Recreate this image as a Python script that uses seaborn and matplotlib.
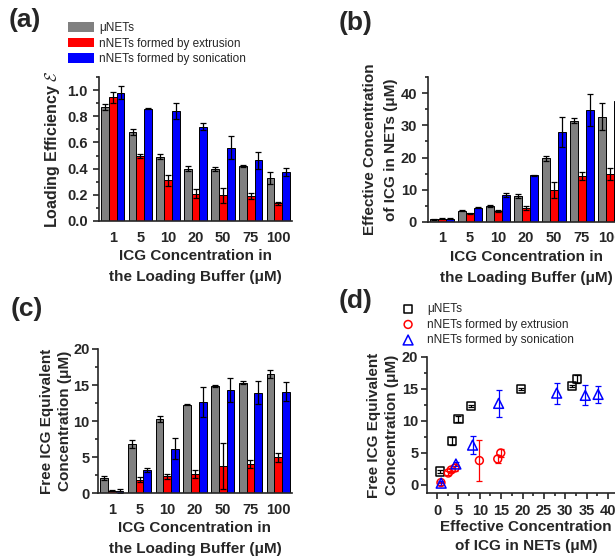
import numpy as np
import pandas as pd
import matplotlib
matplotlib.use('Agg')
import matplotlib.pyplot as plt
import seaborn as sns
from matplotlib.patches import Patch
from matplotlib.ticker import MultipleLocator, FormatStrFormatter

sns.set_style('ticks')
plt.rcParams['font.family'] = ['Liberation Sans', 'DejaVu Sans']
plt.rcParams['font.weight'] = 'bold'
plt.rcParams['axes.labelweight'] = 'bold'
plt.rcParams['mathtext.fontset'] = 'cm'
plt.rcParams['axes.linewidth'] = 1.2

# categories
conc = ['1', '5', '10', '20', '50', '75', '100']
groups = ['μNETs', 'nNETs formed by extrusion', 'nNETs formed by sonication']
colors = ['#808080', '#ff0000', '#0000ff']

# (a) loading efficiency
eff_mu = [0.87, 0.68, 0.49, 0.40, 0.40, 0.42, 0.33]
eff_mu_err = [0.02, 0.02, 0.02, 0.02, 0.015, 0.01, 0.045]
eff_ext = [0.945, 0.50, 0.31, 0.21, 0.195, 0.19, 0.136]
eff_ext_err = [0.04, 0.015, 0.04, 0.035, 0.055, 0.025, 0.01]
eff_son = [0.98, 0.857, 0.84, 0.72, 0.56, 0.463, 0.376]
eff_son_err = [0.05, 0.005, 0.06, 0.025, 0.09, 0.067, 0.03]

# (b) effective concentration of ICG in NETs (uM)
nets_mu = [0.7, 3.4, 5.0, 8.0, 19.7, 31.5, 32.7]
nets_mu_err = [0.1, 0.2, 0.3, 0.5, 0.8, 0.8, 4.2]
nets_ext = [0.9, 2.6, 3.3, 4.2, 9.9, 14.2, 14.9]
nets_ext_err = [0.1, 0.2, 0.4, 0.6, 2.6, 1.2, 1.8]
nets_son = [0.95, 4.4, 8.3, 14.4, 28.0, 34.7, 37.7]
nets_son_err = [0.1, 0.2, 0.6, 0.3, 4.6, 5.0, 3.0]

# (c) free ICG equivalent concentration (uM)
free_mu = [2.1, 6.84, 10.3, 12.3, 14.9, 15.35, 16.5]
free_mu_err = [0.3, 0.6, 0.45, 0.1, 0.15, 0.15, 0.55]
free_ext = [0.37, 1.86, 2.33, 2.65, 3.8, 4.05, 4.98]
free_ext_err = [0.1, 0.35, 0.3, 0.55, 3.2, 0.6, 0.6]
free_son = [0.28, 3.26, 6.2, 12.7, 14.3, 13.95, 14.1]
free_son_err = [0.3, 0.3, 1.4, 2.1, 1.65, 1.55, 1.35]

W, H = 615, 558
fig = plt.figure(figsize=(6.15, 5.58), dpi=100)


def px_axes(left, top, right, bottom):
    return fig.add_axes([left / W, 1 - bottom / H, (right - left) / W, (bottom - top) / H])


def bar_panel(ax, vals, errs, top, major, ypad=3.5):
    df = pd.DataFrame({'conc': np.tile(conc, 3),
                       'group': np.repeat(groups, len(conc)),
                       'value': np.concatenate(vals)})
    sns.barplot(data=df, x='conc', y='value', hue='group', order=conc,
                hue_order=groups, palette=colors, saturation=1, width=0.84,
                edgecolor='black', linewidth=0.7, errorbar=None, legend=False, ax=ax)
    for cont, err in zip(ax.containers, errs):
        xs = [p.get_x() + p.get_width() / 2 for p in cont]
        ys = [p.get_height() for p in cont]
        ax.errorbar(xs, ys, yerr=err, fmt='none', ecolor='black',
                    elinewidth=0.9, capsize=2.2, capthick=0.9)
    ax.set_xlim(-0.5, 6.5)
    ax.set_ylim(0, top)
    ax.yaxis.set_major_locator(MultipleLocator(major))
    ax.yaxis.set_minor_locator(MultipleLocator(major / 2))
    ax.tick_params(axis='x', length=0, pad=7, labelsize=10.5)
    ax.tick_params(axis='y', which='major', length=4.5, width=1.2, labelsize=10.5, pad=ypad)
    ax.tick_params(axis='y', which='minor', length=2.5, width=1.2)
    ax.set_xlabel('ICG Concentration in\nthe Loading Buffer (μM)', fontsize=11,
                  linespacing=1.65, labelpad=3)
    sns.despine(ax=ax)


# (a)
ax_a = px_axes(99, 77, 292, 221)
bar_panel(ax_a, [eff_mu, eff_ext, eff_son], [eff_mu_err, eff_ext_err, eff_son_err], 1.1, 0.2)
ax_a.yaxis.set_major_formatter(FormatStrFormatter('%.1f'))
ax_a.set_ylabel(r'Loading Efficiency $\mathcal{E}$', fontsize=11.5)
handles = [Patch(facecolor=c, edgecolor='none') for c in colors]
ax_a.legend(handles, groups, loc='upper left', bbox_to_anchor=(68 / W, 1 - 22 / H),
            bbox_transform=fig.transFigure, frameon=False, borderaxespad=0, borderpad=0,
            prop={'weight': 'normal', 'size': 8.5}, handlelength=2.2, handleheight=0.9,
            handletextpad=0.45, labelspacing=0.3)

# (b)
ax_b = px_axes(428, 77.3, 624, 221.7)
bar_panel(ax_b, [nets_mu, nets_ext, nets_son], [nets_mu_err, nets_ext_err, nets_son_err], 45, 10)
ax_b.set_ylabel('Effective Concentration\nof ICG in NETs (μM)', fontsize=11,
                labelpad=2, linespacing=1.6)

# (c)
ax_c = px_axes(98, 349, 292, 493.3)
bar_panel(ax_c, [free_mu, free_ext, free_son], [free_mu_err, free_ext_err, free_son_err],
          20, 5, ypad=1.5)
ax_c.set_ylabel('Free ICG Equivalent\nConcentration (μM)', fontsize=11,
                labelpad=1, linespacing=1.4)

# (d) free vs effective concentration
ax_d = px_axes(427.3, 356.5, 625, 493.3)
series = [(nets_mu, free_mu, free_mu_err, 's', 'black', 34),
          (nets_ext, free_ext, free_ext_err, 'o', 'red', 32),
          (nets_son, free_son, free_son_err, '^', 'blue', 50)]
for (xv, yv, ye, mk, col, sz), lab in zip(series, groups):
    ax_d.errorbar(xv, yv, yerr=ye, fmt='none', ecolor=col, elinewidth=0.9,
                  capsize=2.2, capthick=0.9, zorder=2)
    sns.scatterplot(x=xv, y=yv, marker=mk, s=sz, facecolor='none', edgecolor=col,
                    linewidth=1.1, label=lab, ax=ax_d, zorder=3)
ax_d.set_xlim(-2.3, 44)
ax_d.set_ylim(-1.3, 20)
ax_d.xaxis.set_major_locator(MultipleLocator(5))
ax_d.xaxis.set_minor_locator(MultipleLocator(2.5))
ax_d.yaxis.set_major_locator(MultipleLocator(5))
ax_d.yaxis.set_minor_locator(MultipleLocator(2.5))
ax_d.tick_params(which='major', length=4.5, width=1.2, labelsize=10.5)
ax_d.tick_params(axis='y', pad=2)
ax_d.tick_params(which='minor', length=2.5, width=1.2)
ax_d.set_xlabel('Effective Concentration\nof ICG in NETs (μM)', fontsize=11,
                linespacing=1.45, labelpad=1)
ax_d.set_ylabel('Free ICG Equivalent\nConcentration (μM)', fontsize=11,
                labelpad=2, linespacing=1.4)
sns.despine(ax=ax_d)
ax_d.legend(loc='upper left', bbox_to_anchor=(401 / W, 1 - 303 / H),
            bbox_transform=fig.transFigure, frameon=False, borderaxespad=0, borderpad=0,
            prop={'weight': 'normal', 'size': 8.5}, handlelength=1.2,
            handletextpad=1.0, labelspacing=0.3)

# panel letters
for txt, x, y in [('(a)', 9, 8), ('(b)', 339, 11), ('(c)', 11, 297), ('(d)', 339, 289)]:
    fig.text(x / W, 1 - y / H, txt, fontsize=19, fontweight='bold', va='top', ha='left')

fig.savefig('out.png', dpi=100, facecolor='white')
